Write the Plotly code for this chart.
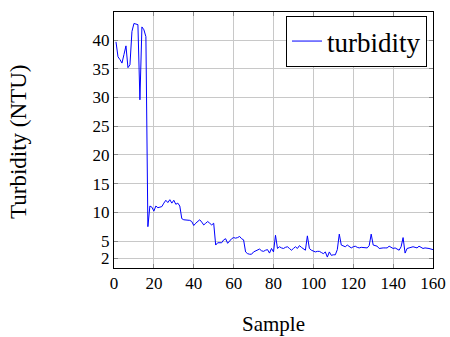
import plotly.graph_objects as go

samples = list(range(1, 161))
turbidity = [
    39.7, 37.1, 36.6, 36.0, 37.5, 39.0, 35.2, 35.7, 41.5, 42.9,
    42.8, 42.7, 29.6, 42.3, 41.8, 40.6, 7.5, 11.1, 10.9, 10.2,
    11.1, 10.8, 10.9, 11.0, 11.6, 12.1, 11.7, 12.2, 11.6, 12.1,
    11.4, 11.6, 11.1, 8.9, 8.7, 8.7, 8.7, 8.6, 8.4, 7.7,
    8.1, 8.4, 8.7, 8.3, 7.8, 8.1, 8.4, 8.1, 7.8, 8.1,
    4.3, 4.7, 4.7, 4.7, 5.2, 5.4, 4.6, 5.0, 5.4, 5.6,
    5.5, 5.6, 5.8, 5.4, 5.2, 3.1, 2.8, 2.7, 2.7, 3.1,
    3.3, 3.4, 3.6, 3.3, 3.2, 3.4, 3.5, 2.9, 3.7, 3.1,
    6.0, 3.7, 4.0, 3.8, 3.7, 3.9, 4.0, 3.7, 3.4, 3.7,
    4.0, 3.7, 4.2, 3.9, 3.7, 3.4, 5.9, 3.7, 3.4, 3.2,
    3.1, 3.2, 3.2, 3.0, 2.8, 3.1, 2.2, 3.1, 2.5, 2.6,
    2.6, 3.5, 6.2, 4.3, 4.1, 4.0, 4.3, 4.1, 3.8, 4.0,
    4.1, 3.9, 3.8, 3.9, 3.9, 3.8, 3.8, 4.2, 6.2, 4.3,
    4.2, 4.1, 3.7, 3.8, 3.8, 3.8, 3.8, 4.1, 3.9, 3.7,
    3.8, 3.6, 3.4, 4.0, 5.6, 2.9, 3.7, 3.8, 3.9, 4.0,
    3.9, 3.8, 4.1, 3.9, 3.7, 3.8, 3.8, 3.7, 3.6, 3.5,
]
x_ticks = [0, 20, 40, 60, 80, 100, 120, 140, 160]
y_ticks = [2, 5, 10, 15, 20, 25, 30, 35, 40]

FONT = "'Liberation Serif', 'Times New Roman', Times, serif"

L, R, T, B = 114, 17, 12, 69
PW, PH = 450 - L - R, 337 - T - B

fig = go.Figure()
fig.add_trace(go.Scatter(x=samples, y=turbidity, mode="lines", name="turbidity",
                         line=dict(color="#0000ff", width=1)))

axis_common = dict(showline=True, linecolor="black", linewidth=1, mirror="allticks",
                   showgrid=True, gridcolor="#c8c8c8", gridwidth=1, automargin=False,
                   ticks="inside", ticklen=4, tickcolor="#888888", zeroline=False,
                   tickfont=dict(family=FONT, size=17, color="black"))

fig.update_layout(
    width=450, height=337,
    margin=dict(l=L, r=R, t=T, b=B, autoexpand=False),
    paper_bgcolor="white", plot_bgcolor="white",
    showlegend=True,
    legend=dict(x=(427 - L) / PW, y=(T + PH - 16) / PH, xanchor="right", yanchor="top",
                bordercolor="black", borderwidth=1, bgcolor="white",
                font=dict(family=FONT, size=27, color="black")),
    xaxis=dict(range=[0, 160], tickvals=x_ticks, **axis_common),
    yaxis=dict(range=[0.3, 44.9], tickvals=y_ticks, **axis_common),
    annotations=[
        dict(text="Sample", x=(273 - L) / PW, y=(T + PH - 324) / PH,
             xref="paper", yref="paper", xanchor="center", yanchor="middle",
             showarrow=False, font=dict(family=FONT, size=21, color="black")),
        dict(text="Turbidity (NTU)", x=(18 - L) / PW, y=(T + PH - 142) / PH,
             xref="paper", yref="paper", xanchor="center", yanchor="middle",
             showarrow=False, textangle=-90,
             font=dict(family=FONT, size=23, color="black")),
    ],
)

fig.write_html("out.html", post_script="document.body.style.margin='0';",
               config={"displayModeBar": False})
